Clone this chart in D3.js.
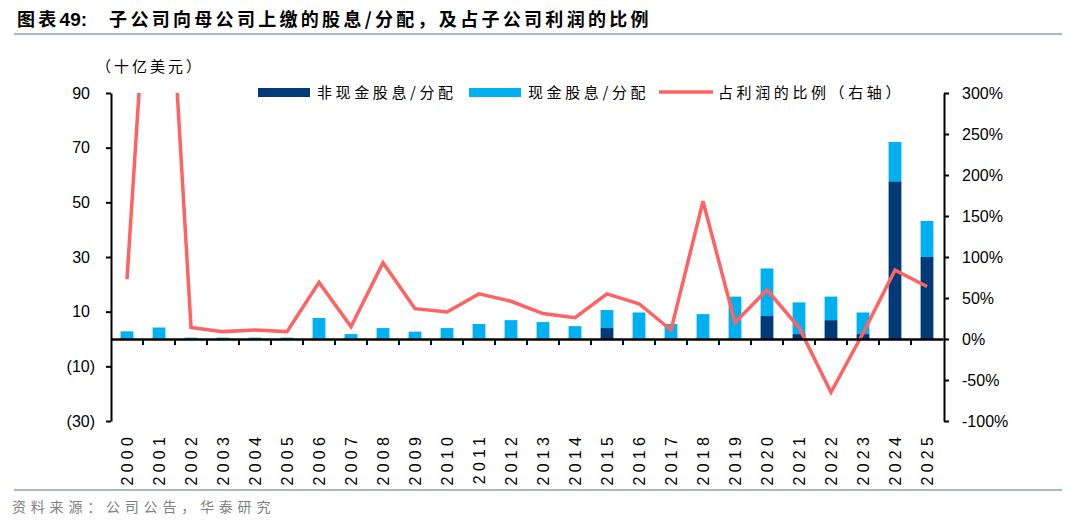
<!DOCTYPE html>
<html>
<head>
<meta charset="utf-8">
<script src="https://cdn.jsdelivr.net/npm/d3@7"></script>
<style>
  body { margin: 0; background: #fff; }
  svg { display: block; }
  .num { font-family: "Liberation Sans", Arial, sans-serif; font-size: 16px; fill: #000; }
  .cjk { font-family: "Noto Sans CJK SC", sans-serif; }
</style>
</head>
<body>
<div id="chart"></div>
<script>
// data
const years = d3.range(2000, 2026).map(String);
const nonCash = [0, 0, 0, 0, 0, 0, 0, 0, 0, 0, 0, 0, 0, 0, 0, 4.0, 0, 0, 0, 0, 8.4, 1.8, 6.9, 1.8, 57.7, 30.0];
const cash = [2.8, 4.2, 0.5, 0.5, 0.5, 0.5, 7.7, 1.8, 4.0, 2.7, 4.0, 5.5, 6.9, 6.2, 4.7, 6.6, 9.7, 5.5, 9.1, 15.5, 17.4, 11.6, 8.6, 7.9, 14.4, 13.2];
const ratio = [73, 680, 14, 9, 11, 9, 69, 15, 93, 37, 33, 55, 46, 31, 26, 55, 43, 11, 168, 20, 60, 14, -65, 7, 84, 64];
const leftTicks = [90, 70, 50, 30, 10, -10, -30];
const rightTicks = [-100, -50, 0, 50, 100, 150, 200, 250, 300];
const legendNames = ["非现金股息/分配", "现金股息/分配", "占利润的比例（右轴）"];

const W = 1080, H = 525;
const plot = { left: 111, right: 943, top: 93, bottom: 421 };
const colors = { dark: "#003A78", light: "#00B0F0", red: "#FF6262" };

const svg = d3.select("#chart").append("svg")
  .attr("width", W).attr("height", H);

// scales
const x = d3.scaleBand().domain(years).range([plot.left, plot.right]).padding(0);
const yL = d3.scaleLinear().domain([-30, 90]).range([plot.bottom, plot.top]);
const yR = d3.scaleLinear().domain([-100, 300]).range([plot.bottom, plot.top]);
const barW = x.bandwidth() * 0.4;

// title + rules
const title = svg.append("text")
  .attr("class", "cjk")
  .attr("x", 17).attr("y", 26)
  .style("font-size", "18px").style("font-weight", "bold").style("letter-spacing", "3.3px");
title.append("tspan").text("图表");
title.append("tspan").attr("class", "num").style("font-size", "19px").style("font-weight", "bold")
  .style("letter-spacing", "0px").text("49:");
title.append("tspan").attr("dx", 22).text("子公司向母公司上缴的股息/分配，及占子公司利润的比例");
svg.append("line").attr("x1", 14).attr("x2", 1062).attr("y1", 34).attr("y2", 34)
  .attr("stroke", "#A3B8D4").attr("stroke-width", 2);
svg.append("line").attr("x1", 14).attr("x2", 1062).attr("y1", 490).attr("y2", 490)
  .attr("stroke", "#A3B8D4").attr("stroke-width", 2);
svg.append("text")
  .attr("class", "cjk")
  .attr("x", 12).attr("y", 512)
  .style("font-size", "14px").style("fill", "#808080").style("letter-spacing", "4.8px")
  .text("资料来源：公司公告，华泰研究");

// unit label
svg.append("text")
  .attr("class", "cjk")
  .attr("x", 96).attr("y", 72)
  .style("font-size", "15px").style("letter-spacing", "3px")
  .text("（十亿美元）");

// stacked bars
const stack = years.map((yr, i) => ({ yr, nc: nonCash[i], c: cash[i] }));
const bars = svg.append("g");
bars.selectAll(".nc").data(stack).join("rect")
  .attr("x", d => x(d.yr) + (x.bandwidth() - barW) / 2)
  .attr("width", barW)
  .attr("y", d => yL(d.nc))
  .attr("height", d => yL(0) - yL(d.nc))
  .attr("fill", colors.dark);
bars.selectAll(".c").data(stack).join("rect")
  .attr("x", d => x(d.yr) + (x.bandwidth() - barW) / 2)
  .attr("width", barW)
  .attr("y", d => yL(d.nc + d.c))
  .attr("height", d => yL(d.nc) - yL(d.nc + d.c))
  .attr("fill", colors.light);

// ratio line, clipped at the top of the plot
svg.append("defs").append("clipPath").attr("id", "clip")
  .append("rect")
  .attr("x", plot.left).attr("y", plot.top)
  .attr("width", plot.right - plot.left + 2).attr("height", plot.bottom - plot.top);
const line = d3.line()
  .x((d, i) => x(years[i]) + x.bandwidth() / 2)
  .y(d => yR(d));
svg.append("path")
  .datum(ratio)
  .attr("clip-path", "url(#clip)")
  .attr("fill", "none")
  .attr("stroke", colors.red)
  .attr("stroke-width", 3.5)
  .attr("stroke-linejoin", "miter")
  .attr("d", line);

// left axis
const leftAxis = svg.append("g")
  .attr("transform", `translate(${plot.left},0)`)
  .call(d3.axisLeft(yL).tickValues(leftTicks).tickSize(5).tickSizeOuter(0)
    .tickFormat(d => d < 0 ? `(${-d})` : d));
leftAxis.select(".domain").attr("stroke-width", 2);
leftAxis.selectAll(".tick line").attr("stroke-width", 2);
leftAxis.selectAll(".tick text")
  .attr("class", "num")
  .attr("x", d => d < 0 ? -16 : -21);

// right axis
const rightAxis = svg.append("g")
  .attr("transform", `translate(${plot.right + 1},0)`)
  .call(d3.axisRight(yR).tickValues(rightTicks).tickSize(5).tickSizeOuter(0)
    .tickFormat(d => d + "%"));
rightAxis.select(".domain").attr("stroke-width", 2);
rightAxis.selectAll(".tick line").attr("stroke-width", 2);
rightAxis.selectAll(".tick text")
  .attr("class", "num")
  .attr("x", 18);

// category axis on the zero line
const xAxis = svg.append("g")
  .attr("transform", `translate(0,${yL(0)})`)
  .call(d3.axisBottom(x).tickSize(0).tickSizeOuter(0));
xAxis.select(".domain").attr("stroke-width", 2.5);
xAxis.selectAll(".tick text")
  .attr("class", "num")
  .style("letter-spacing", "4.2px")
  .attr("transform", "rotate(-90)")
  .attr("text-anchor", "end")
  .attr("x", -(433 - yL(0)))
  .attr("y", 0)
  .attr("dy", "0.35em");
// ticks between categories
xAxis.selectAll(".sep").data(years.slice(1)).join("line")
  .attr("x1", d => x(d)).attr("x2", d => x(d))
  .attr("y1", 0).attr("y2", 6)
  .attr("stroke", "#000").attr("stroke-width", 2);

// legend
const legend = svg.append("g").attr("class", "cjk").style("font-size", "15px");
const lx = [258, 469, 659];
legend.append("rect").attr("x", lx[0]).attr("y", 88).attr("width", 52).attr("height", 9).attr("fill", colors.dark);
legend.append("rect").attr("x", lx[1]).attr("y", 88).attr("width", 52).attr("height", 9).attr("fill", colors.light);
legend.append("line").attr("x1", lx[2]).attr("x2", lx[2] + 54).attr("y1", 92).attr("y2", 92)
  .attr("stroke", colors.red).attr("stroke-width", 3.5);
legendNames.forEach((t, i) => {
  legend.append("text")
    .attr("x", lx[i] + 59).attr("y", 97.5)
    .style("letter-spacing", "3.6px")
    .text(t);
});
</script>
</body>
</html>
